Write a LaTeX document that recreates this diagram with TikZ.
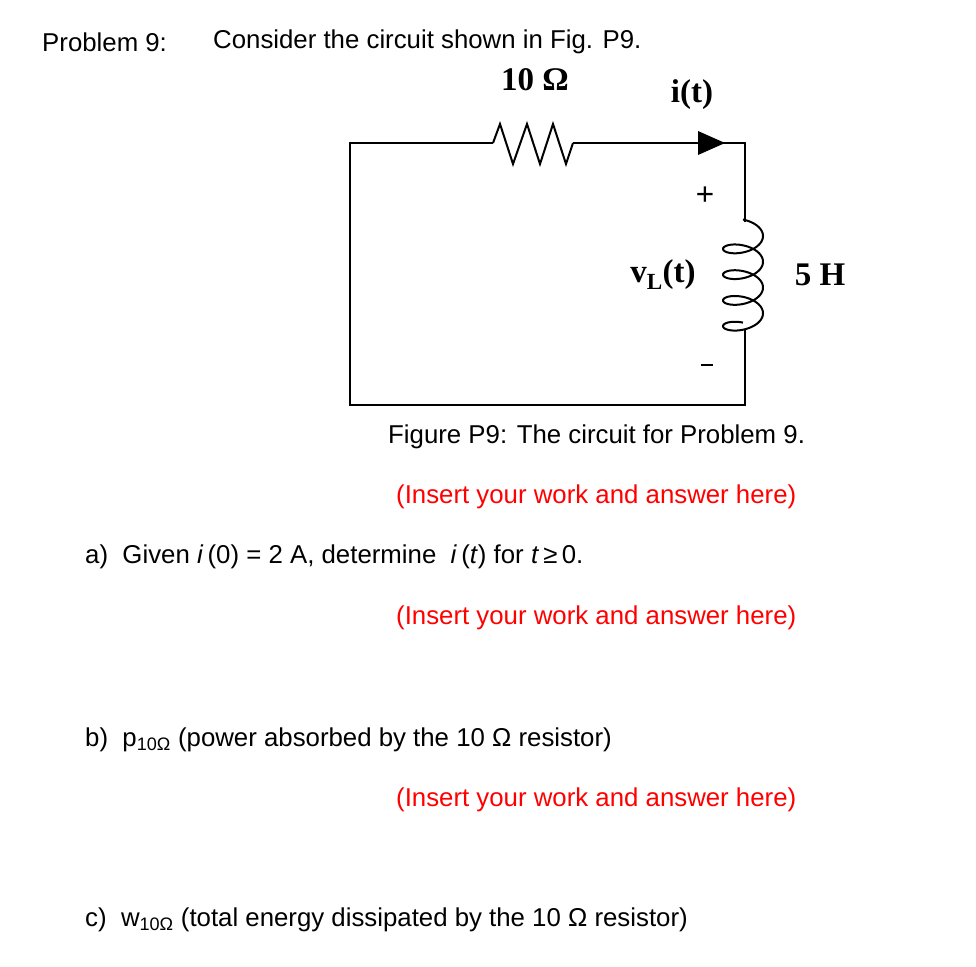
\documentclass[tikz,border=0pt]{standalone}
\usepackage{fontspec}
\setmainfont{Liberation Sans}
\newfontfamily\tms{Liberation Serif}
\begin{document}
\begin{tikzpicture}[x=1pt,y=-1pt,
  txt/.style={anchor=west,inner sep=0pt,font=\fontsize{25.8}{30}\selectfont},
  red/.style={txt,text={rgb,255:red,255;green,0;blue,0}},
  cl/.style={inner sep=0pt,font=\tms\bfseries\fontsize{33}{36}\selectfont},
  wire/.style={line width=2pt}]
\useasboundingbox (0,0) rectangle (976,966);
\fill[white] (0,0) rectangle (976,966);
\node[txt] (p9) at (42,42) {Problem 9:};
\node[txt] (intro) at (213,42) {Consider the circuit shown in Fig. P9.};
% circuit
\coordinate (tl) at (350,143);
\coordinate (r1) at (493,143);
\coordinate (r2) at (573,143);
\coordinate (tr) at (745,143);
\coordinate (l1) at (745,222);
\coordinate (l2) at (745,330);
\coordinate (br) at (745,405);
\coordinate (bl) at (350,405);
\draw[wire] (r1) -- (tl) -- (bl) -- (br) -- (l2);
\draw[wire] (l1) -- (tr) -- (r2);
\draw[wire,line join=miter] (r1) -- (500,124) -- (513,164) -- (527,124) -- (540,164) -- (553,124) -- (566,164) -- (r2);
\fill (698,131) -- (725,143) -- (698,155) -- cycle;
\draw[wire,domain=-1.5708:23.5619,samples=240,smooth] plot ({743+20*cos(\x r)}, {236+4.1*\x+10*sin(\x r)});
\node[cl] (R) at (535,80) {10 Ω};
\node[cl] (it) at (692,95) {i(t)};
\node[cl] (plus) at (705,196) {+};
\draw[line width=1.4pt] (701,365) -- (713,365);
\node[cl] (vl) at (663,275) {v\textsubscript{L}(t)};
\node[cl] (LH) at (820,275) {5 H};
\node[txt] (cap) at (388,437) {Figure P9: The circuit for Problem 9.};
\node[red] (w0) at (396,497) {(Insert your work and answer here)};
\node[txt] (qa) at (85,557) {a)\ \ Given \textit{i}\,(0) = 2 A, determine \ \textit{i}\,(\textit{t}) for \textit{t}\,≥\,0.};
\node[red] (w1) at (396,618) {(Insert your work and answer here)};
\node[txt] (qb) at (85,740) {b)\ \ p\textsubscript{10Ω} (power absorbed by the 10 Ω resistor)};
\node[red] (w2) at (396,800) {(Insert your work and answer here)};
\node[txt] (qc) at (85,920) {c)\ \ w\textsubscript{10Ω} (total energy dissipated by the 10 Ω resistor)};
\end{tikzpicture}
\end{document}
